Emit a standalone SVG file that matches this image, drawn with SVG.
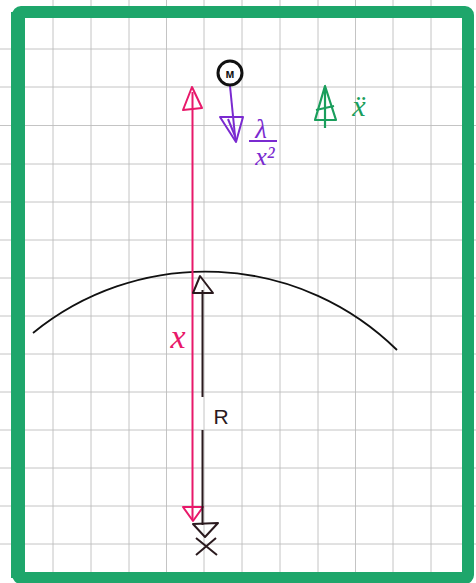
<svg xmlns="http://www.w3.org/2000/svg" width="476" height="583" viewBox="0 0 476 583">
<style>
.grid line{stroke:#bdbdbd;stroke-width:0.9}
.pink{stroke:#e8196a;fill:none;stroke-width:2}
.blk{stroke:#2a1a1e;fill:none;stroke-width:2}
.pur{stroke:#7a2ad0;fill:none;stroke-width:2}
.grn{stroke:#1a9e5c;fill:none;stroke-width:2.2}
.t{font-family:"Liberation Serif",serif;font-style:italic}
</style>
<rect width="476" height="583" fill="#ffffff"/>
<g class="grid">
<line x1="53" y1="0" x2="53" y2="583"/><line x1="91" y1="0" x2="91" y2="583"/><line x1="129" y1="0" x2="129" y2="583"/><line x1="166.5" y1="0" x2="166.5" y2="583"/><line x1="204" y1="0" x2="204" y2="583"/><line x1="242" y1="0" x2="242" y2="583"/><line x1="280" y1="0" x2="280" y2="583"/><line x1="318" y1="0" x2="318" y2="583"/><line x1="355.5" y1="0" x2="355.5" y2="583"/><line x1="393" y1="0" x2="393" y2="583"/><line x1="431" y1="0" x2="431" y2="583"/>
<line x1="0" y1="49" x2="476" y2="49"/><line x1="0" y1="87" x2="476" y2="87"/><line x1="0" y1="125.5" x2="476" y2="125.5"/><line x1="0" y1="164" x2="476" y2="164"/><line x1="0" y1="202" x2="476" y2="202"/><line x1="0" y1="240" x2="476" y2="240"/><line x1="0" y1="278" x2="476" y2="278"/><line x1="0" y1="316" x2="476" y2="316"/><line x1="0" y1="354" x2="476" y2="354"/><line x1="0" y1="392" x2="476" y2="392"/><line x1="0" y1="430" x2="476" y2="430"/><line x1="0" y1="468" x2="476" y2="468"/><line x1="0" y1="506" x2="476" y2="506"/><line x1="0" y1="544" x2="476" y2="544"/>
</g>
<rect x="18" y="12" width="450" height="566" rx="3" fill="none" stroke="#1ea66b" stroke-width="12" stroke-linejoin="round"/>
<line x1="18" y1="12" x2="18" y2="578" stroke="#1ea66b" stroke-width="14"/>

<g id="earth-surface">
<path d="M33,333 A273,273 0 0 1 397,350" fill="none" stroke="#111" stroke-width="1.8"/>
</g>

<g id="connectors">
<g id="x-arrow">
<line class="pink" x1="192.5" y1="92" x2="192.5" y2="520"/>
<path class="pink" d="M192,87 L183,110 L202,108 Z" stroke-linejoin="round"/>
<path class="pink" d="M183,507 L203,507 L193,521 Z" stroke-linejoin="round"/>
</g>
<g id="r-arrow">
<line class="blk" x1="202.5" y1="290" x2="202.5" y2="397"/>
<line class="blk" x1="202.5" y1="430" x2="202.5" y2="525"/>
<path class="blk" d="M200,276 L193,293 L213,293 Z" stroke-linejoin="round"/>
<path class="blk" d="M193,524 L218,523 L205,537 Z" stroke-linejoin="round"/>
</g>
<g id="force-arrow">
<line class="pur" x1="230" y1="86" x2="235.5" y2="141"/>
<path class="pur" d="M220,117 L243,117 L236,142 Z" stroke-linejoin="round"/>
<line class="pur" x1="228" y1="119" x2="235" y2="136"/>
</g>
<g id="accel-arrow">
<line class="grn" x1="325" y1="88" x2="325" y2="128"/>
<path class="grn" d="M325,86 L315,120 L336,120 Z" stroke-linejoin="round"/>
<line class="grn" x1="316" y1="110" x2="334" y2="106"/>
</g>
</g>

<g id="mass">
<circle cx="230" cy="73" r="12" fill="#fff" stroke="#111" stroke-width="3"/>
<text x="230" y="78" text-anchor="middle" font-family="Liberation Sans,sans-serif" font-size="12" font-weight="bold" fill="#111">м</text>
</g>

<g id="center">
<path d="M196,538 L217,555 M216,538 L196,555" stroke="#2a1a1e" stroke-width="2" fill="none"/>
</g>

<g id="labels">
<text class="t" x="178" y="348" text-anchor="middle" font-size="34" fill="#e8196a">x</text>
<text x="221" y="424" text-anchor="middle" font-family="Liberation Sans,sans-serif" font-size="21" fill="#2a1a1e">R</text>
<text class="t" x="261" y="138" text-anchor="middle" font-size="27" fill="#7a2ad0">λ</text>
<line x1="249" y1="141" x2="277" y2="141" stroke="#7a2ad0" stroke-width="2"/>
<text class="t" x="265" y="165" text-anchor="middle" font-size="26" fill="#7a2ad0">x²</text>
<text class="t" x="359" y="116" text-anchor="middle" font-size="30" fill="#1a9e5c">ẍ</text>
</g>
</svg>
